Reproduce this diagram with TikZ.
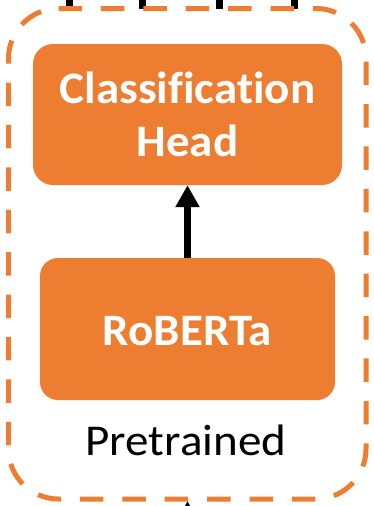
\documentclass[tikz,border=0pt]{standalone}
\usepackage{fontspec}
\setmainfont{Carlito}[Ligatures=NoCommon]
\newfontfamily\blockfont{Carlito}[Ligatures=NoCommon,FakeStretch=1.045,BoldFont=*-Bold]
\newfontfamily\notefont{Carlito}[Ligatures=NoCommon,FakeStretch=1.07]
\usetikzlibrary{arrows.meta}
\definecolor{accent}{HTML}{ED7D31}
\begin{document}
\begin{tikzpicture}[x=1pt,y=-1pt,
  block/.style={fill=accent,draw=none,rounded corners=20pt,text=white,
    font=\blockfont\fontsize{45}{53}\selectfont\bfseries,align=center,inner sep=0pt},
  frame/.style={draw=accent,line width=5pt,rounded corners=50pt,
    dash pattern=on 23.5pt off 18.9pt},
  link/.style={line width=7pt},
  flow/.style={line width=7pt,-{Triangle[width=23pt,length=22pt]}}]
  \useasboundingbox (0,0) rectangle (373,506);
  \clip (0,0) rectangle (373,506);

  % lines leaving the pretrained group upwards
  \foreach \x [count=\i] in {69,142,219,294} {
    \coordinate (up\i) at (\x,-5);
    \coordinate (dn\i) at (\x,8.5);
    \draw[link] (dn\i) -- (up\i);
  }

  % dashed group outline, drawn as an open loop so the dash pattern starts cleanly
  \draw[frame] (58.5,8.5) -- (366,8.5) -- (366,499) -- (8.5,499) -- (8.5,8.5) -- (58.5,8.5);

  % blocks
  \node[block,minimum width=309pt,minimum height=141pt] (head) at (187.5,114.5)
    {Classification\\Head};
  \node[block,rounded corners=18pt,minimum width=295pt,minimum height=142pt] (roberta)
    at (187.5,329) {};
  \node[font=\blockfont\fontsize{45}{53}\selectfont\bfseries,text=white,anchor=base]
    (robertatext) at (187.5,345) {RoBERTa};
  \node[font=\notefont\fontsize{44}{52}\selectfont,anchor=base] (label) at (186,455) {Pretrained};

  \draw[flow] (roberta.north) -- (head.south);

  % input arrow entering from below
  \coordinate (src) at (187.5,540);
  \coordinate (entry) at (187.5,501);
  \draw[flow] (src) -- (entry);
\end{tikzpicture}
\end{document}
